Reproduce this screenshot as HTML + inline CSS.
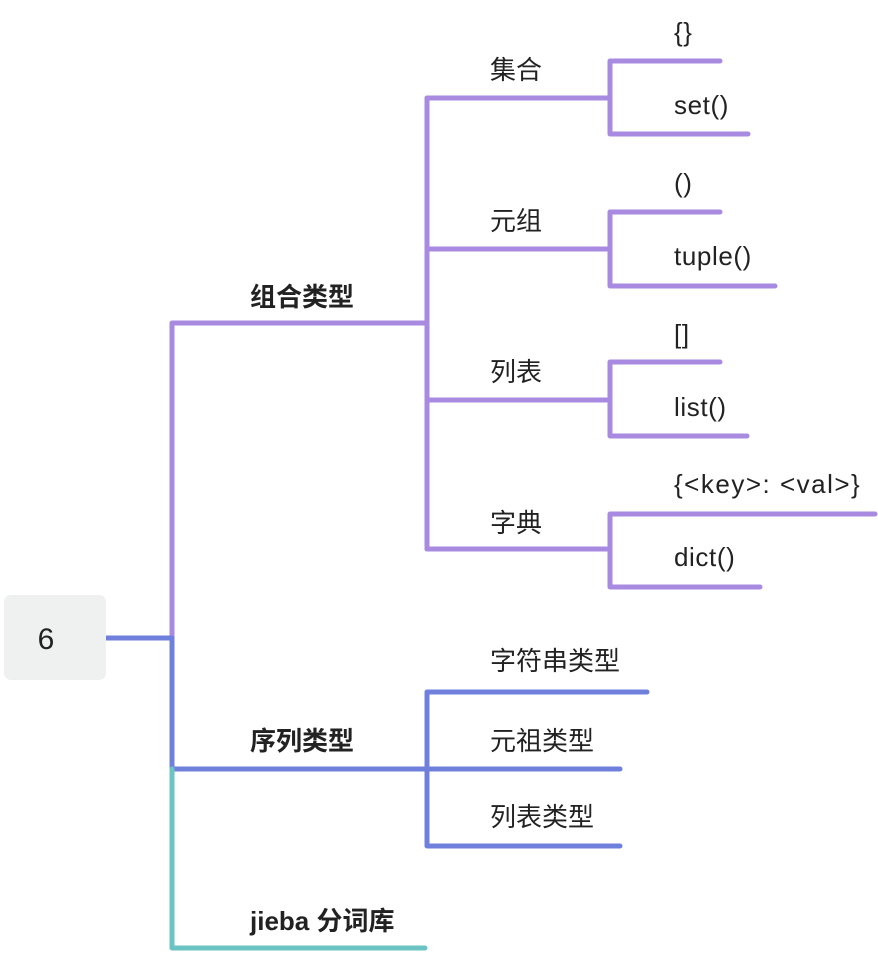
<!DOCTYPE html>
<html><head><meta charset="utf-8"><style>
html,body{margin:0;padding:0;background:#fff;width:878px;height:956px;overflow:hidden}
text{font-family:"Liberation Sans","Noto Sans CJK SC",sans-serif;fill:#222;font-size:26px}
.b{font-weight:bold;font-size:26px}
.l{letter-spacing:0.6px}
</style></head><body>
<svg width="878" height="956" viewBox="0 0 878 956" xmlns="http://www.w3.org/2000/svg">
<g fill="none" stroke-width="5" stroke-linecap="round" stroke-linejoin="round">
<g stroke="#A88BE0">
<path d="M172 638 V323 H427"/>
<path d="M427 98 V549"/>
<path d="M427 98 H610"/><path d="M427 249 H610"/><path d="M427 400 H610"/><path d="M427 549 H610"/>
<path d="M720 61 H610 V134 H748"/>
<path d="M720 212 H610 V286 H775"/>
<path d="M720 362 H610 V436 H747"/>
<path d="M875 514 H610 V587 H760"/>
</g>
<g stroke="#6F80DC">
<path d="M106 638 H172"/>
<path d="M172 638 V769 H427"/>
<path d="M647 692 H427 V846 H620"/>
<path d="M427 769 H620"/>
</g>
<path stroke="#6CC3C3" d="M172 769 V948 H425"/>
</g>
<rect x="4" y="595" width="102" height="85" rx="7" fill="#EFF0F0"/>
<text x="46" y="649" text-anchor="middle" style="font-size:30px">6</text>
<text class="b" x="250" y="306">组合类型</text>
<text class="b" x="250" y="750">序列类型</text>
<text class="b" x="250" y="930">jieba 分词库</text>
<text x="490" y="79">集合</text>
<text x="490" y="230">元组</text>
<text x="490" y="381">列表</text>
<text x="490" y="532">字典</text>
<text class="l" x="674" y="41">{}</text>
<text class="l" x="674" y="114">set()</text>
<text class="l" x="674" y="192">()</text>
<text class="l" x="674" y="265">tuple()</text>
<text class="l" x="674" y="343">[]</text>
<text class="l" x="674" y="416">list()</text>
<text x="674" y="493" style="letter-spacing:1.5px">{&lt;key&gt;: &lt;val&gt;}</text>
<text class="l" x="674" y="566">dict()</text>
<text x="490" y="670">字符串类型</text>
<text x="490" y="750">元祖类型</text>
<text x="490" y="826">列表类型</text>
</svg>
</body></html>
